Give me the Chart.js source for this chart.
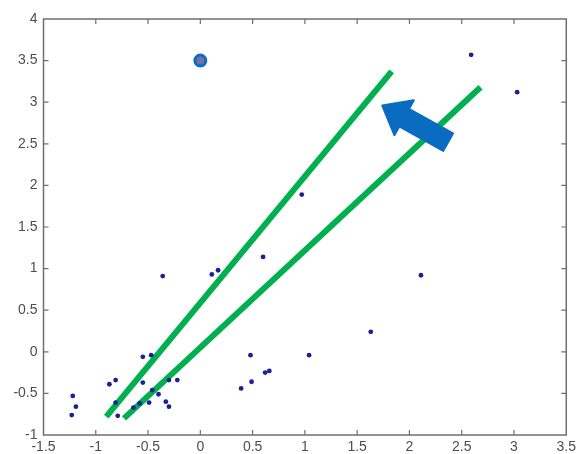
<!DOCTYPE html>
<html>
<head>
<meta charset="utf-8">
<script src="https://cdn.jsdelivr.net/npm/chart.js@4"></script>
<style>
    body { margin: 0; background: #fff; }
    #wrap { width: 580px; height: 454px; }
</style>
</head>
<body>
<div id="wrap"><canvas id="plot" width="580" height="454"></canvas></div>
<script>
// scatter points
const pointsX = [-1.22, -1.19, -1.23, -0.87, -0.81, -0.81, -0.79, -0.55, -0.47, -0.46,
    -0.40, -0.49, -0.58, -0.64, -0.33, -0.30, -0.30, -0.22, -0.55, 0.48,
    0.39, 0.49, 0.62, 0.66, 1.04, 1.63, 2.11, -0.36, 0.11, 0.17,
    0.60, 0.97, 2.59, 3.03];
const pointsY = [-0.53, -0.66, -0.76, -0.39, -0.34, -0.61, -0.77, -0.06, -0.04, -0.46,
    -0.51, -0.61, -0.62, -0.67, -0.60, -0.66, -0.34, -0.34, -0.37, -0.04,
    -0.44, -0.36, -0.25, -0.23, -0.04, 0.24, 0.92, 0.91, 0.93, 0.98,
    1.14, 1.89, 3.57, 3.12];

// the highlighted outlier
const outlierX = [0];
const outlierY = [3.5];

// two fitted lines
const lineAX = [-0.90, 1.83];
const lineAY = [-0.78, 3.37];
const lineBX = [-0.73, 2.68];
const lineBY = [-0.80, 3.18];

// arrow: tail -> tip
const arrowX = [2.37, 1.74];
const arrowY = [2.52, 2.96];

const xTicks = [-1.5, -1, -0.5, 0, 0.5, 1, 1.5, 2, 2.5, 3, 3.5];
const yTicks = [-1, -0.5, 0, 0.5, 1, 1.5, 2, 2.5, 3, 3.5, 4];

const toXY = (xs, ys) => xs.map((x, i) => ({ x: x, y: ys[i] }));

const boxPlugin = {
    id: 'box',
    afterDraw(chart) {
        const ctx = chart.ctx;
        const a = chart.chartArea;
        const xs = chart.scales.x, ys = chart.scales.y;
        ctx.save();
        ctx.strokeStyle = '#6f6f6f';
        ctx.lineWidth = 1.5;
        ctx.strokeRect(a.left, a.top, a.right - a.left, a.bottom - a.top);
        ctx.lineWidth = 1.2;
        ctx.beginPath();
        xTicks.slice(1, -1).forEach(v => {
            const px = xs.getPixelForValue(v);
            ctx.moveTo(px, a.bottom); ctx.lineTo(px, a.bottom - 5);
            ctx.moveTo(px, a.top); ctx.lineTo(px, a.top + 5);
        });
        yTicks.slice(1, -1).forEach(v => {
            const py = ys.getPixelForValue(v);
            ctx.moveTo(a.left, py); ctx.lineTo(a.left + 5, py);
            ctx.moveTo(a.right, py); ctx.lineTo(a.right - 5, py);
        });
        ctx.stroke();
        ctx.restore();
    }
};

const arrowPlugin = {
    id: 'arrow',
    afterDatasetsDraw(chart) {
        const ctx = chart.ctx;
        const xs = chart.scales.x, ys = chart.scales.y;
        const x0 = xs.getPixelForValue(arrowX[0]), y0 = ys.getPixelForValue(arrowY[0]);
        const x1 = xs.getPixelForValue(arrowX[1]), y1 = ys.getPixelForValue(arrowY[1]);
        const len = Math.hypot(x1 - x0, y1 - y0);
        const ux = (x1 - x0) / len, uy = (y1 - y0) / len;
        const nx = -uy, ny = ux;
        const shaft = 10, head = 20, headLen = 25;
        const bx = x1 - ux * headLen, by = y1 - uy * headLen;
        ctx.save();
        ctx.fillStyle = '#0a6cc0';
        ctx.strokeStyle = '#0a6cc0';
        ctx.lineWidth = 2;
        ctx.lineJoin = 'round';
        ctx.beginPath();
        ctx.moveTo(x0 + nx * shaft, y0 + ny * shaft);
        ctx.lineTo(bx + nx * shaft, by + ny * shaft);
        ctx.lineTo(bx + nx * head, by + ny * head);
        ctx.lineTo(x1, y1);
        ctx.lineTo(bx - nx * head, by - ny * head);
        ctx.lineTo(bx - nx * shaft, by - ny * shaft);
        ctx.lineTo(x0 - nx * shaft, y0 - ny * shaft);
        ctx.closePath();
        ctx.fill();
        ctx.stroke();
        ctx.restore();
    }
};

const tickFont = { family: 'Liberation Sans, Arial, sans-serif', size: 14 };

new Chart(document.getElementById('plot'), {
    type: 'scatter',
    data: {
        datasets: [
            {
                data: toXY(pointsX, pointsY),
                pointRadius: 2.4,
                pointBackgroundColor: '#1e1e96',
                pointBorderWidth: 0,
                showLine: false
            },
            {
                type: 'line',
                data: toXY(lineAX, lineAY),
                borderColor: '#00b04f',
                borderWidth: 6,
                borderCapStyle: 'butt',
                pointRadius: 0,
                fill: false
            },
            {
                type: 'line',
                data: toXY(lineBX, lineBY),
                borderColor: '#00b04f',
                borderWidth: 6,
                borderCapStyle: 'butt',
                pointRadius: 0,
                fill: false
            },
            {
                data: toXY(outlierX, outlierY),
                pointRadius: 5.5,
                pointBackgroundColor: '#7070a6',
                pointBorderColor: '#0a6cc0',
                pointBorderWidth: 3
            }
        ]
    },
    options: {
        responsive: false,
        animation: false,
        layout: { padding: { top: 19, right: 9, left: 0, bottom: 0 } },
        plugins: { legend: { display: false }, tooltip: { enabled: false } },
        scales: {
            x: {
                type: 'linear',
                min: -1.5,
                max: 3.5,
                grid: { display: false, drawTicks: false },
                border: { display: false },
                afterBuildTicks: s => { s.ticks = xTicks.map(v => ({ value: v })); },
                afterFit: s => { s.height = 19; },
                ticks: {
                    color: '#4d4d4d',
                    font: tickFont,
                    padding: 4,
                    maxRotation: 0,
                    autoSkip: false,
                    callback: v => String(v)
                }
            },
            y: {
                type: 'linear',
                min: -1,
                max: 4,
                grid: { display: false, drawTicks: false },
                border: { display: false },
                afterBuildTicks: s => { s.ticks = yTicks.map(v => ({ value: v })); },
                afterFit: s => { s.width = 43.5; },
                ticks: {
                    color: '#4d4d4d',
                    font: tickFont,
                    padding: 6,
                    autoSkip: false,
                    callback: v => String(v)
                }
            }
        }
    },
    plugins: [boxPlugin, arrowPlugin]
});
</script>
</body>
</html>
